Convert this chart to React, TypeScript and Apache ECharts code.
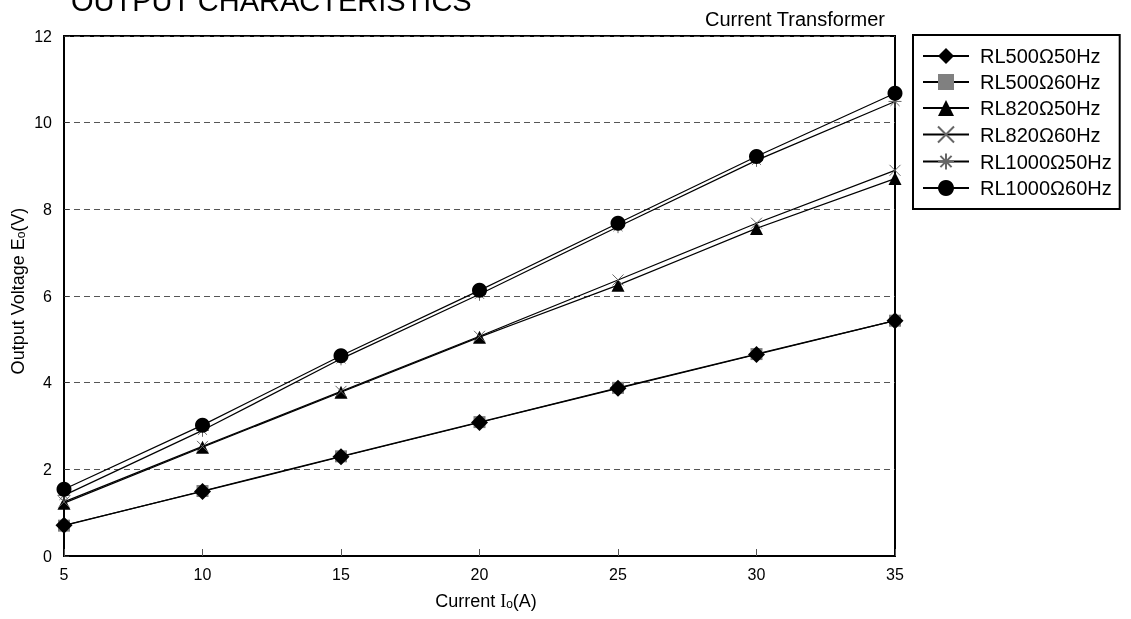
import React, { useEffect, useRef } from "react";
import * as echarts from "echarts";

const currents = [5, 10, 15, 20, 25, 30, 35];
const rl500_50 = [0.71, 1.49, 2.29, 3.08, 3.87, 4.65, 5.43];
const rl500_60 = [0.7, 1.5, 2.3, 3.09, 3.88, 4.66, 5.43];
const rl820_50 = [1.22, 2.51, 3.78, 5.05, 6.25, 7.56, 8.71];
const rl820_60 = [1.25, 2.53, 3.8, 5.07, 6.37, 7.68, 8.9];
const rl1000_50 = [1.4, 2.9, 4.55, 6.04, 7.6, 9.13, 10.49];
const rl1000_60 = [1.54, 3.02, 4.62, 6.13, 7.68, 9.22, 10.68];
const seriesNames = [
  "RL500Ω50Hz",
  "RL500Ω60Hz",
  "RL820Ω50Hz",
  "RL820Ω60Hz",
  "RL1000Ω50Hz",
  "RL1000Ω60Hz",
];
const yTicks = [0, 2, 4, 6, 8, 10, 12];
const xTicks = [5, 10, 15, 20, 25, 30, 35];

const FONT = "Liberation Sans, Arial, sans-serif";

const pairs = (ys: number[]) => currents.map((x, i) => [x, ys[i]]);

export default function App() {
  const ref = useRef<HTMLDivElement>(null);
  useEffect(() => {
    if (!ref.current) return;
    const chart = echarts.init(ref.current, undefined, { renderer: "svg" });
    const lineStyle = { color: "#000", width: 1.2 };
    const crossPath = "path://M0,0L10,10M10,0L0,10";
    const starPath = "path://M5,0L5,10M0,5L10,5M1.5,1.5L8.5,8.5M8.5,1.5L1.5,8.5";
    const option: any = {
      animation: false,
      textStyle: { fontFamily: FONT },
      grid: {
        left: 64,
        right: 236,
        top: 36,
        bottom: 63,
        show: true,
        borderColor: "#000",
        borderWidth: 2,
        backgroundColor: "transparent",
      },
      xAxis: {
        type: "value",
        min: xTicks[0],
        max: xTicks[xTicks.length - 1],
        interval: 5,
        axisLine: { show: true, lineStyle: { color: "#000", width: 2 } },
        axisTick: { show: true, inside: true, length: 7, lineStyle: { color: "#555" } },
        axisLabel: { fontSize: 16, color: "#000", margin: 10, fontFamily: FONT },
        splitLine: { show: false },
      },
      yAxis: {
        type: "value",
        min: yTicks[0],
        max: yTicks[yTicks.length - 1],
        interval: 2,
        axisLine: { show: true, lineStyle: { color: "#000", width: 2 } },
        axisTick: { show: true, inside: true, length: 5, lineStyle: { color: "#333" } },
        axisLabel: { fontSize: 16, color: "#000", margin: 12, fontFamily: FONT },
        splitLine: { show: true, lineStyle: { color: "#555", type: [6, 4], width: 1 } },
      },
      legend: {
        orient: "vertical",
        left: 913,
        top: 35,
        borderColor: "#000",
        borderWidth: 2,
        padding: [11, 8, 11, 9],
        itemWidth: 46,
        itemHeight: 20,
        itemGap: 6,
        data: seriesNames,
        lineStyle: { width: 2, color: "#000" },
        textStyle: { fontSize: 20, color: "#000", fontFamily: FONT, padding: [0, 0, 0, 6] },
      },
      graphic: [
        {
          type: "text",
          x: 71,
          y: 1,
          style: {
            text: "OUTPUT CHARACTERISTICS",
            font: `29px ${FONT}`,
            fill: "#000",
            align: "left",
            verticalAlign: "middle",
          },
        },
        {
          type: "text",
          x: 885,
          y: 19,
          style: {
            text: "Current Transformer",
            font: `20px ${FONT}`,
            fill: "#000",
            align: "right",
            verticalAlign: "middle",
          },
        },
        {
          type: "text",
          x: 18,
          y: 291,
          rotation: Math.PI / 2,
          style: {
            text: "Output Voltage E{sub|o}(V)",
            font: `18px ${FONT}`,
            fill: "#000",
            align: "center",
            verticalAlign: "middle",
            rich: {
              sub: { fontSize: 12, fontFamily: FONT, fill: "#000", verticalAlign: "bottom", padding: [6, 0, 0, 0] },
            },
          },
        },
        {
          type: "text",
          x: 486,
          y: 601,
          style: {
            text: "Current {ser|I}{sub|o}(A)",
            font: `18px ${FONT}`,
            fill: "#000",
            align: "center",
            verticalAlign: "middle",
            rich: {
              ser: { fontSize: 18, fontFamily: "Liberation Serif, serif", fill: "#000" },
              sub: { fontSize: 12, fontFamily: FONT, fill: "#000", verticalAlign: "bottom", padding: [6, 0, 0, 0] },
            },
          },
        },
      ],
      series: [
        {
          name: seriesNames[0],
          type: "line",
          data: pairs(rl500_50),
          symbol: "diamond",
          symbolSize: 17,
          z: 4,
          lineStyle,
          itemStyle: { color: "#000" },
        },
        {
          name: seriesNames[1],
          type: "line",
          data: pairs(rl500_60),
          symbol: "rect",
          symbolSize: 12,
          z: 3,
          lineStyle,
          itemStyle: { color: "#808080" },
        },
        {
          name: seriesNames[2],
          type: "line",
          data: pairs(rl820_50),
          symbol: "triangle",
          symbolSize: 13,
          z: 3,
          lineStyle,
          itemStyle: { color: "#000" },
        },
        {
          name: seriesNames[3],
          type: "line",
          data: pairs(rl820_60),
          symbol: crossPath,
          symbolSize: 11,
          z: 3,
          lineStyle,
          itemStyle: { color: "none", borderColor: "#666", borderWidth: 1 },
        },
        {
          name: seriesNames[4],
          type: "line",
          data: pairs(rl1000_50),
          symbol: starPath,
          symbolSize: 13,
          z: 3,
          lineStyle,
          itemStyle: { color: "none", borderColor: "#666", borderWidth: 1 },
        },
        {
          name: seriesNames[5],
          type: "line",
          data: pairs(rl1000_60),
          symbol: "circle",
          symbolSize: 15,
          z: 4,
          lineStyle,
          itemStyle: { color: "#000" },
        },
      ],
    };
    chart.setOption(option);
    return () => chart.dispose();
  }, []);
  return (
    <div
      ref={ref}
      style={{ position: "fixed", left: 0, top: 0, width: 1131, height: 619 }}
    />
  );
}
